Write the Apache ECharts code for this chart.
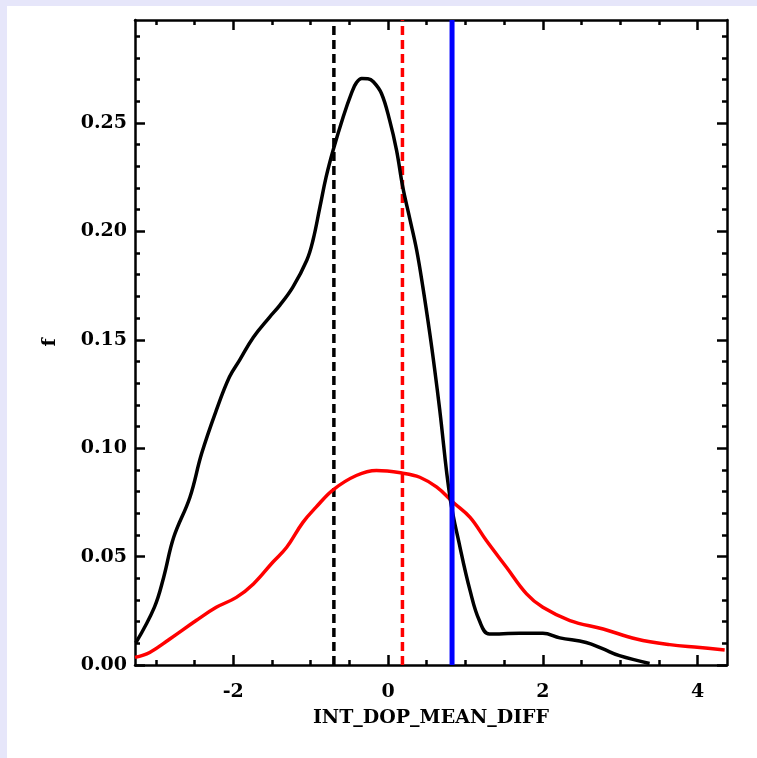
<!DOCTYPE html>
<html>
<head>
<meta charset="utf-8">
<script src="https://cdn.jsdelivr.net/npm/echarts@6/dist/echarts.min.js"></script>
<style>
  html, body { margin: 0; padding: 0; width: 757px; height: 758px; background: #E6E6FA; overflow: hidden; }
  #panel { position: absolute; left: 7px; top: 6px; width: 750px; height: 752px; background: #FFFFFF; }
  #chart { position: absolute; left: 0; top: 0; width: 757px; height: 758px; }
</style>
</head>
<body>
<div id="panel"></div>
<div id="chart"></div>
<script>
// ---- Data ----
const blackX = [-3.26, -3.02, -2.90, -2.77, -2.56, -2.41, -2.22, -2.05, -1.92, -1.74, -1.53, -1.40, -1.23, -1.05, -0.97, -0.88, -0.80, -0.71, -0.58, -0.47, -0.41, -0.34, -0.26, -0.19, -0.085, 0.02, 0.11, 0.19, 0.28, 0.37, 0.45, 0.54, 0.60, 0.67, 0.80, 0.93, 1.06, 1.18, 1.31, 1.70, 2.00, 2.22, 2.56, 2.78, 2.99, 3.38];
const blackY = [0.0102, 0.0266, 0.0404, 0.0589, 0.0774, 0.0974, 0.1174, 0.1328, 0.1405, 0.1512, 0.1605, 0.1659, 0.1743, 0.1867, 0.1959, 0.2113, 0.2251, 0.2374, 0.2528, 0.2640, 0.2685, 0.2705, 0.2704, 0.2690, 0.2636, 0.2513, 0.2374, 0.2205, 0.2060, 0.1913, 0.1743, 0.1528, 0.1370, 0.1170, 0.0774, 0.0543, 0.0343, 0.0205, 0.0143, 0.0146, 0.0146, 0.0125, 0.0104, 0.0074, 0.0043, 0.0007];

const redX = [-3.27, -3.08, -2.82, -2.48, -2.22, -1.96, -1.74, -1.49, -1.31, -1.10, -0.93, -0.71, -0.41, -0.15, 0.19, 0.41, 0.63, 0.84, 1.06, 1.27, 1.53, 1.79, 2.00, 2.35, 2.78, 3.21, 3.64, 4.03, 4.35];
const redY = [0.0035, 0.0058, 0.0120, 0.0205, 0.0266, 0.0312, 0.0374, 0.0474, 0.0543, 0.0658, 0.0728, 0.0808, 0.0874, 0.0897, 0.0885, 0.0866, 0.0820, 0.0751, 0.0681, 0.0574, 0.0451, 0.0328, 0.0266, 0.0205, 0.0166, 0.0120, 0.0094, 0.0081, 0.0069];

const blackDashedX = -0.70;
const redDashedX = 0.186;
const blueSolidX = 0.827;

const xMin = -3.27, xMax = 4.38;
const yMin = 0, yMax = 0.2975;

const xMajorTicks = [-2, 0, 2, 4];
const xMinorTicks = [-3, -2.5, -1.5, -1, -0.5, 0.5, 1, 1.5, 2.5, 3, 3.5];
const yMajorTicks = [0, 0.05, 0.10, 0.15, 0.20, 0.25];
const yMinorTicks = [0.01, 0.02, 0.03, 0.04, 0.06, 0.07, 0.08, 0.09, 0.11, 0.12, 0.13, 0.14, 0.16, 0.17, 0.18, 0.19, 0.21, 0.22, 0.23, 0.24, 0.26, 0.27, 0.28, 0.29];

const xTitle = 'INT_DOP_MEAN_DIFF';
const yTitle = 'f';

// ---- Chart ----
const FONT = 'DejaVu Serif';
const AX = 2.5;
function pairs(xs, ys) { return xs.map((x, i) => [x, ys[i]]); }

function xAxisDef(pos, ticks, len, labels, line) {
  return {
    type: 'value', position: pos, min: xMin, max: xMax,
    axisLine: { show: line, onZero: false, lineStyle: { color: '#000', width: AX } },
    axisTick: { show: true, inside: true, length: len, customValues: ticks, lineStyle: { color: '#000', width: AX } },
    axisLabel: labels ? { show: true, customValues: ticks, margin: 18, color: '#000', fontFamily: FONT, fontWeight: 'bold', fontSize: 19 } : { show: false },
    splitLine: { show: false }, minorTick: { show: false },
    name: labels ? xTitle : '', nameLocation: 'middle', nameGap: 44,
    nameTextStyle: { color: '#000', fontFamily: FONT, fontWeight: 'bold', fontSize: 19 }
  };
}
function yAxisDef(pos, ticks, len, labels, line) {
  return {
    type: 'value', position: pos, min: yMin, max: yMax,
    axisLine: { show: line, onZero: false, lineStyle: { color: '#000', width: AX } },
    axisTick: { show: true, inside: true, length: len, customValues: ticks, lineStyle: { color: '#000', width: AX } },
    axisLabel: labels ? { show: true, customValues: ticks, margin: 8, color: '#000', fontFamily: FONT, fontWeight: 'bold', fontSize: 19, formatter: v => v.toFixed(2) } : { show: false },
    splitLine: { show: false }, minorTick: { show: false },
    name: labels ? yTitle : '', nameLocation: 'middle', nameGap: 75, nameRotate: 90,
    nameTextStyle: { color: '#000', fontFamily: FONT, fontWeight: 'bold', fontSize: 19 }
  };
}

const chart = echarts.init(document.getElementById('chart'), null, { renderer: 'canvas' });
chart.setOption({
  animation: false,
  backgroundColor: 'transparent',
  grid: { left: 135, top: 20, width: 592, height: 645, containLabel: false, show: false },
  xAxis: [
    xAxisDef('bottom', xMajorTicks, 10, true, true),
    xAxisDef('bottom', xMinorTicks, 5, false, false),
    xAxisDef('top', xMajorTicks, 10, false, true),
    xAxisDef('top', xMinorTicks, 5, false, false)
  ],
  yAxis: [
    yAxisDef('left', yMajorTicks, 10, true, true),
    yAxisDef('left', yMinorTicks, 5, false, false),
    yAxisDef('right', yMajorTicks, 10, false, true),
    yAxisDef('right', yMinorTicks, 5, false, false)
  ],
  series: [
    { type: 'line', data: [[blackDashedX, yMin], [blackDashedX, yMax]], symbol: 'none', lineStyle: { color: '#000', width: 3.5, type: [9, 5] }, z: 3 },
    { type: 'line', data: [[redDashedX, yMin], [redDashedX, yMax]], symbol: 'none', lineStyle: { color: '#FF0000', width: 3.5, type: [9, 5] }, z: 3 },
    { type: 'line', data: pairs(redX, redY), symbol: 'none', smooth: 0.4, lineStyle: { color: '#FF0000', width: 3.5 }, z: 4 },
    { type: 'line', data: pairs(blackX, blackY), symbol: 'none', smooth: 0.4, lineStyle: { color: '#000', width: 3.5 }, z: 5 },
    { type: 'line', data: [[blueSolidX, yMin], [blueSolidX, yMax]], symbol: 'none', lineStyle: { color: '#0000FF', width: 5 }, z: 6 }
  ]
});
</script>
</body>
</html>
